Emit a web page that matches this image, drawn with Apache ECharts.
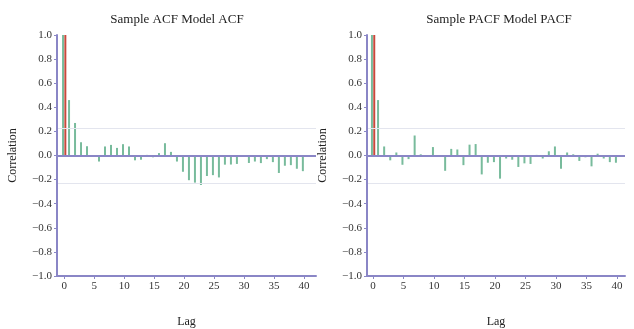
<!DOCTYPE html>
<html>
<head>
<meta charset="utf-8">
<script src="https://cdn.jsdelivr.net/npm/echarts@6/dist/echarts.min.js"></script>
<style>
  html, body { margin: 0; padding: 0; background: #fff; }
  #chart { width: 634px; height: 329px; }
</style>
</head>
<body>
<div id="chart"></div>
<script>
// lag numbers shared by both panels
const lags = [0, 1, 2, 3, 4, 5, 6, 7, 8, 9, 10, 11, 12, 13, 14, 15, 16, 17, 18, 19, 20,
  21, 22, 23, 24, 25, 26, 27, 28, 29, 30, 31, 32, 33, 34, 35, 36, 37, 38, 39, 40];

const sampleAcf = [1.0, 0.46, 0.27, 0.11, 0.077, -0.01, -0.05, 0.075, 0.088, 0.063, 0.094,
  0.075, -0.04, -0.035, 0.005, -0.015, 0.02, 0.102, 0.03, -0.05, -0.135,
  -0.205, -0.225, -0.245, -0.17, -0.163, -0.182, -0.076, -0.075, -0.07, -0.01,
  -0.062, -0.05, -0.063, -0.03, -0.055, -0.145, -0.085, -0.08, -0.11, -0.13];
const modelAcf = [1.0];

const samplePacf = [1.0, 0.46, 0.075, -0.04, 0.025, -0.077, -0.03, 0.166, 0.01, -0.01, 0.07,
  -0.01, -0.127, 0.055, 0.05, -0.08, 0.09, 0.095, -0.157, -0.06, -0.055,
  -0.192, -0.025, -0.035, -0.095, -0.065, -0.07, 0.005, -0.025, 0.035, 0.075,
  -0.11, 0.025, 0.01, -0.045, -0.015, -0.09, 0.015, -0.025, -0.055, -0.06];
const modelPacf = [1.0];

const xTicks = [0, 5, 10, 15, 20, 25, 30, 35, 40];
const confBound = 0.23;

const chart = echarts.init(document.getElementById('chart'));

const serif = 'Liberation Serif';
const axisColor = '#8a86c6';
const green = '#78bb9c';
const red = '#c9483c';

const toPairs = (vals) => vals.map((v, i) => [lags[i], v]);

const panels = [
  {title: 'Sample ACF Model ACF', sample: sampleAcf, model: modelAcf,
   left: 57, width: 259, xMin: -1.2, xMax: 42, titleX: 172},
  {title: 'Sample PACF Model PACF', sample: samplePacf, model: modelPacf,
   left: 367, width: 258, xMin: -1, xMax: 41.3, titleX: 494}
];

const option = {
  animation: false,
  title: panels.map(p => ({
    text: p.title,
    left: p.titleX,
    top: 8,
    textAlign: 'center',
    textStyle: {fontFamily: serif, fontSize: 13, fontWeight: 'normal', color: '#222'}
  })),
  grid: panels.map(p => ({
    left: p.left, width: p.width, top: 35, height: 241,
    containLabel: false, outerBoundsMode: 'none'
  })),
  xAxis: panels.map((p, i) => ({
    type: 'value',
    gridIndex: i,
    min: p.xMin,
    max: p.xMax,
    name: 'Lag',
    nameLocation: 'middle',
    nameGap: 40,
    nameTextStyle: {fontFamily: serif, fontSize: 12, color: '#222'},
    axisLine: {onZero: false, lineStyle: {color: axisColor, width: 2}},
    axisTick: {customValues: xTicks, length: 3, lineStyle: {color: axisColor}},
    axisLabel: {customValues: xTicks, fontFamily: serif, fontSize: 11, color: '#333', margin: 5},
    splitLine: {show: false},
    z: 5
  })),
  yAxis: panels.map((p, i) => ({
    type: 'value',
    gridIndex: i,
    min: -1,
    max: 1,
    interval: 0.2,
    name: 'Correlation',
    nameLocation: 'middle',
    nameGap: 38,
    nameTextStyle: {fontFamily: serif, fontSize: 12, color: '#222'},
    axisLine: {show: true, onZero: false, lineStyle: {color: axisColor, width: 2}},
    axisTick: {show: true, length: 3, lineStyle: {color: axisColor}},
    axisLabel: {
      fontFamily: serif, fontSize: 11, color: '#333', margin: 5,
      formatter: v => v.toFixed(1).replace('-', '\u2212')
    },
    splitLine: {show: false},
    z: 5
  })),
  series: panels.flatMap((p, i) => [
    {
      name: 'Sample',
      type: 'bar',
      xAxisIndex: i,
      yAxisIndex: i,
      data: toPairs(p.sample),
      barWidth: 2,
      barGap: '15%',
      itemStyle: {color: green},
      markLine: {
        silent: true,
        symbol: 'none',
        label: {show: false},
        data: [
          {yAxis: confBound, lineStyle: {color: '#e3e5ee', width: 1, type: 'solid'}},
          {yAxis: -confBound, lineStyle: {color: '#e3e5ee', width: 1, type: 'solid'}},
          {yAxis: 0, lineStyle: {color: axisColor, width: 2, type: 'solid'}}
        ]
      }
    },
    {
      name: 'Model',
      type: 'bar',
      xAxisIndex: i,
      yAxisIndex: i,
      data: toPairs(p.model),
      barWidth: 2,
      barGap: '15%',
      itemStyle: {color: red}
    }
  ])
};

chart.setOption(option);
</script>
</body>
</html>
